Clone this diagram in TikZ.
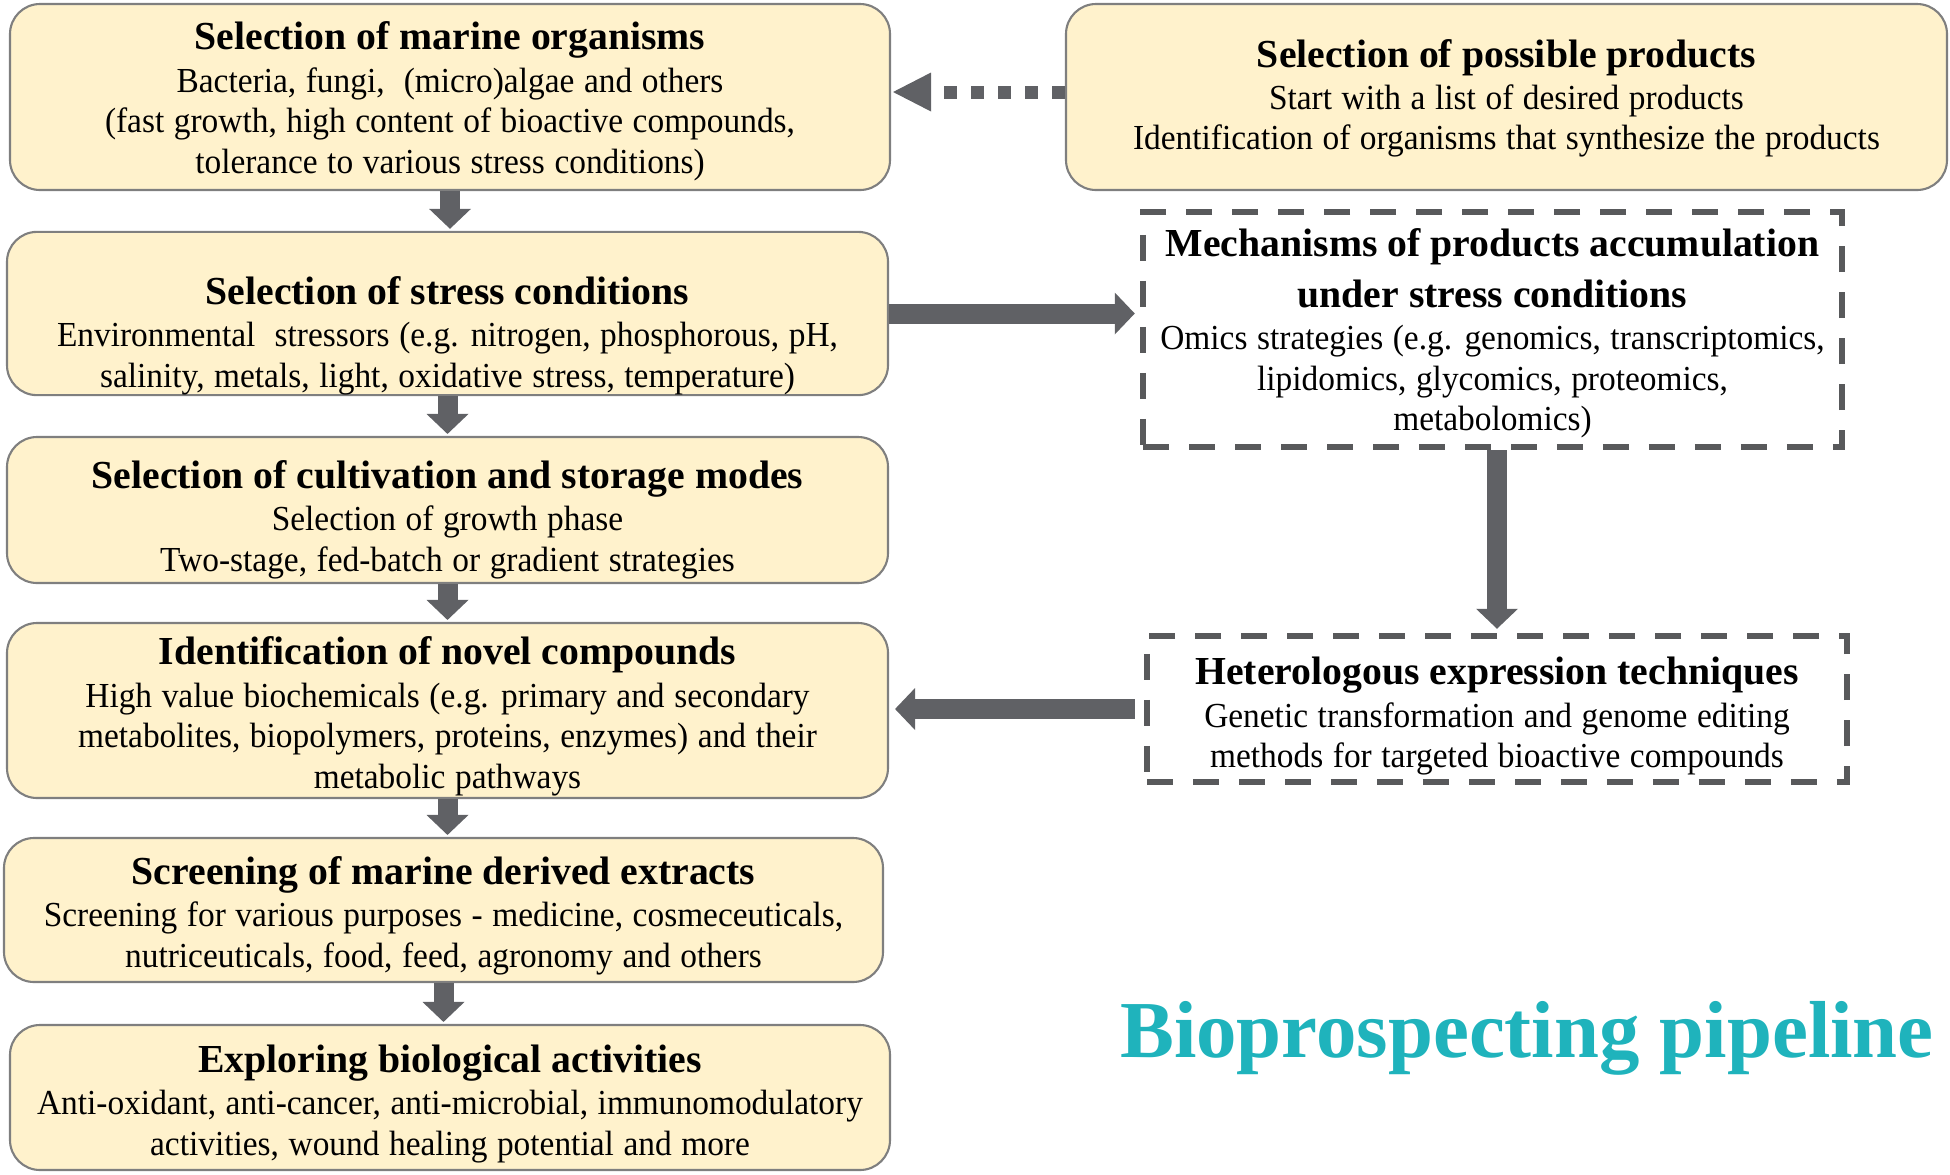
\documentclass[tikz,border=0pt]{standalone}
\usepackage{fontspec}
\setmainfont{Liberation Serif}
\newfontfamily\bodyfont[FakeStretch=0.95,WordSpace=1.15]{Liberation Serif}
\usetikzlibrary{arrows.meta}
\usetikzlibrary{positioning}
\definecolor{BoxYellow}{HTML}{FFF2CC}
\definecolor{BoxEdge}{HTML}{7F7F7F}
\definecolor{ArrowGray}{HTML}{606165}
\definecolor{DashGray}{HTML}{58595B}
\definecolor{TitleTeal}{HTML}{1FB3BC}
\newcommand{\stagehead}{\fontsize{11.3}{11.55}\selectfont\rmfamily\bfseries}
\newcommand{\stagebody}{\bodyfont\fontsize{10}{11.55}\selectfont}
\newcommand{\topgap}[1]{\rule{0pt}{#1}}
\tikzset{
  stage/.style={draw=BoxEdge, line width=0.6pt, fill=BoxYellow,
    rounded corners=0.3cm, align=center, inner sep=0pt, font=\stagebody},
  method/.style={draw=DashGray, line width=0.065cm,
    dash pattern=on 0.26cm off 0.2cm, align=center, inner sep=0pt, font=\stagebody},
  flow/.style={draw=ArrowGray, line width=0.2cm,
    -{Triangle[length=0.2cm,width=0.42cm,line width=0pt]}},
}

\begin{document}
\begin{tikzpicture}
  \useasboundingbox (0,0) rectangle (19.5,-11.74);
  % pipeline, left column
  \node[stage, minimum width=8.80cm, minimum height=1.86cm] (org) at (4.50,-0.97)
    {\topgap{10.5pt}\stagehead Selection of marine organisms\\[0.5pt]
     Bacteria, fungi,\ \ (micro)algae and others\\
     (fast growth, high content of bioactive compounds,\\
     tolerance to various stress conditions)};
  \node[stage, minimum width=8.81cm, minimum height=1.63cm] (stress) at (4.475,-3.135)
    {\topgap{20.7pt}\stagehead Selection of stress conditions\\[0.5pt]
     Environmental\ \ stressors (e.g. nitrogen,\ phosphorous,\ pH,\\
     salinity, metals, light, oxidative stress, temperature)};
  \node[stage, minimum width=8.81cm, minimum height=1.46cm] (cult) at (4.475,-5.10)
    {\topgap{13.3pt}\stagehead Selection of cultivation and storage modes\\[0.5pt]
     Selection of growth phase\\
     Two-stage, fed-batch or gradient strategies};
  \node[stage, minimum width=8.81cm, minimum height=1.75cm] (novel) at (4.475,-7.105)
    {\topgap{11.3pt}\stagehead Identification of novel compounds\\[0.5pt]
     High value biochemicals (e.g. primary and secondary\\
     metabolites, biopolymers, proteins, enzymes)\ and their\\
     metabolic pathways};
  \node[stage, minimum width=8.79cm, minimum height=1.44cm] (screen) at (4.435,-9.10)
    {\topgap{11.3pt}\stagehead Screening of marine derived extracts\\[0.5pt]
     Screening\ for various purposes - medicine, cosmeceuticals,\\
     nutriceuticals, food, feed, agronomy\ and others};
  \node[stage, minimum width=8.80cm, minimum height=1.45cm] (bio) at (4.50,-10.975)
    {\topgap{11.3pt}\stagehead Exploring biological activities\\[0.5pt]
     Anti-oxidant,\ anti-cancer, anti-microbial, immunomodulatory\\
     activities, wound healing potential and more};
  % right column
  \node[stage, minimum width=8.81cm, minimum height=1.86cm] (prod) at (15.065,-0.97)
    {\topgap{8.7pt}\stagehead Selection of possible products\\[0.5pt]
     Start with a list of desired products\\
     Identification\ of organisms that synthesize\ the products};
  \node[method, minimum width=6.99cm, minimum height=2.35cm] (mech) at (14.925,-3.295)
    {\topgap{10pt}\stagehead Mechanisms of products accumulation\\[3.2pt]
     \stagehead under stress conditions\\[0.3pt]
     Omics strategies (e.g. genomics, transcriptomics,\\
     lipidomics, glycomics, proteomics,\\
     metabolomics)};
  \node[method, minimum width=7.00cm, minimum height=1.46cm] (hetero) at (14.97,-7.09)
    {\topgap{11.9pt}\stagehead Heterologous expression techniques\\[0.5pt]
     Genetic transformation\ and genome\ editing\\
     methods\ for targeted bioactive compounds};
  \node[anchor=base, text=TitleTeal, font=\fontsize{23}{27}\selectfont\bfseries]
    (pipe) at (15.27,-10.57) {Bioprospecting pipeline};
  % connectors
  \draw[flow, shorten >=0.02cm] (org.south) -- (org.south |- stress.north);
  \draw[flow, shorten >=0.02cm] (stress.south) -- (stress.south |- cult.north);
  \draw[flow, shorten >=0.02cm] (cult.south) -- (cult.south |- novel.north);
  \draw[flow, shorten >=0.02cm] (novel.south) -- (novel.south |- screen.north);
  \draw[flow, shorten >=0.02cm] (screen.south) -- (screen.south |- bio.north);
  \draw[flow, shorten >=0.05cm] (stress.east) -- (stress.east -| mech.west);
  \draw[flow, shorten >=0.04cm] (mech.south -| hetero.north) -- (hetero.north);
  \draw[flow, shorten <=0.09cm, shorten >=0.06cm] (hetero.west) -- (hetero.west -| novel.east);
  \draw[ArrowGray, line width=0.13cm, dash pattern=on 0.13cm off 0.14cm,
    -{Triangle[length=0.38cm,width=0.39cm,line width=0pt]}, shorten >=0.02cm]
    ([yshift=0.05cm]prod.west) -- ([yshift=0.05cm]org.east);
\end{tikzpicture}
\end{document}
